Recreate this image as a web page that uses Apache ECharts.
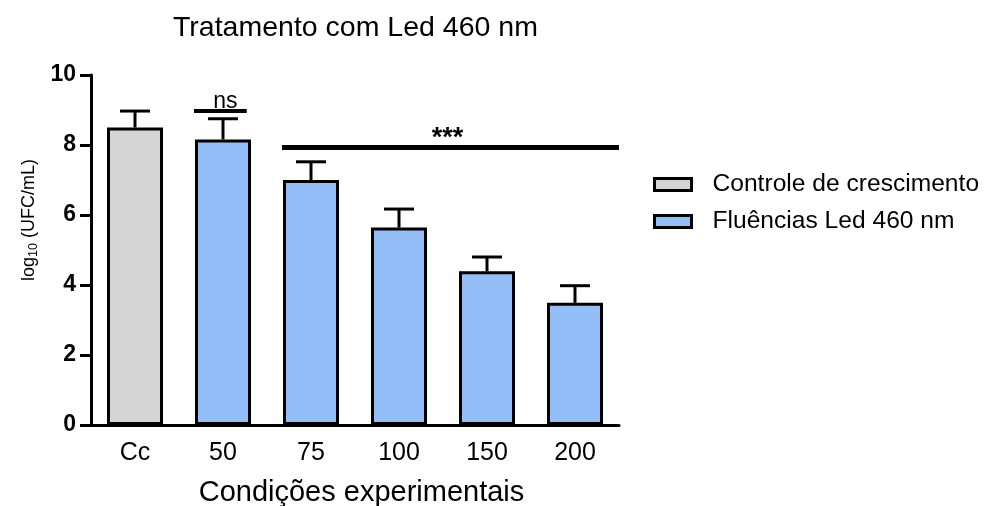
<!DOCTYPE html>
<html>
<head>
<meta charset="utf-8">
<script src="https://cdn.jsdelivr.net/npm/echarts@6/dist/echarts.min.js"></script>
<style>
  html, body { margin: 0; padding: 0; background: #fff; }
  #chart { width: 984px; height: 506px; }
</style>
</head>
<body>
<div id="chart"></div>
<script>
// Experimental conditions (fluence groups) and measured log10 CFU/mL
const categories = ['Cc', '50', '75', '100', '150', '200'];
const means = [8.5, 8.16, 7.0, 5.64, 4.39, 3.49];
const errors = [0.47, 0.59, 0.52, 0.53, 0.41, 0.49];
const controlCategories = ['Cc'];
const yTicks = [0, 2, 4, 6, 8, 10];

const seriesNames = ['Controle de crescimento', 'Fluências Led 460 nm'];

// Significance brackets: first and last category covered, height, label
const sigFrom = ['50', '75'];
const sigTo = ['50', '200'];
const sigLevel = [8.97, 7.93];
const sigText = ['ns', '***'];

const FONT = '"Liberation Sans", Arial, Helvetica, sans-serif';
const GRAY = '#d4d4d4';
const BLUE = '#93bef7';

const controlData = categories.map((c, i) => controlCategories.includes(c) ? means[i] : '-');
const treatedData = categories.map((c, i) => controlCategories.includes(c) ? '-' : means[i]);
const errorData = categories.map((c, i) => [i, means[i], means[i] + errors[i]]);
const sigData = sigText.map((t, i) => [categories.indexOf(sigFrom[i]), categories.indexOf(sigTo[i]), sigLevel[i]]);

const chart = echarts.init(document.getElementById('chart'), null, { renderer: 'canvas' });

const barStyle = (color) => ({ color: color, borderColor: '#000', borderWidth: 3 });

chart.setOption({
  animation: false,
  backgroundColor: '#fff',
  title: {
    text: 'Tratamento com Led 460 nm',
    left: 173,
    top: 14,
    padding: 0,
    textStyle: { fontFamily: FONT, fontSize: 28.5, fontWeight: 'normal', color: '#000' }
  },
  legend: {
    orient: 'vertical',
    left: 653,
    top: 172,
    padding: 0,
    itemGap: 12,
    itemWidth: 37,
    itemHeight: 12,
    icon: 'rect',
    selectedMode: false,
    itemStyle: { borderColor: '#000', borderWidth: 3 },
    textStyle: { fontFamily: FONT, fontSize: 24.6, color: '#000', padding: [0, 0, 0, 16] },
    data: seriesNames
  },
  grid: { left: 91, right: 365, top: 75, bottom: 81, containLabel: false, outerBoundsMode: 'none' },
  xAxis: {
    type: 'category',
    data: categories,
    name: 'Condições experimentais',
    nameLocation: 'middle',
    nameGap: 53,
    nameTextStyle: { fontFamily: FONT, fontSize: 29, color: '#000', padding: [0, 0, 0, 13] },
    axisLine: { lineStyle: { color: '#000', width: 3 } },
    axisTick: { alignWithLabel: true, length: 10, lineStyle: { color: '#000', width: 3 } },
    axisLabel: { fontFamily: FONT, fontSize: 25, color: '#000', margin: 16 },
    splitLine: { show: false }
  },
  yAxis: {
    type: 'value',
    min: yTicks[0],
    max: yTicks[yTicks.length - 1],
    interval: yTicks[1] - yTicks[0],
    axisLine: { show: true, lineStyle: { color: '#000', width: 3 } },
    axisTick: { show: true, length: 11, lineStyle: { color: '#000', width: 3 } },
    axisLabel: { fontFamily: FONT, fontSize: 23, fontWeight: 'bold', color: '#000', margin: 15 },
    splitLine: { show: false }
  },
  graphic: [{
    type: 'text',
    x: 29,
    y: 220,
    rotation: Math.PI / 2,
    style: {
      text: '{a|log}{b|10}{a| (UFC/mL)}',
      align: 'center',
      verticalAlign: 'middle',
      fill: '#000',
      rich: {
        a: { fontFamily: FONT, fontSize: 18, lineHeight: 22, fill: '#000' },
        b: { fontFamily: FONT, fontSize: 12.5, lineHeight: 15, verticalAlign: 'bottom', fill: '#000' }
      }
    }
  }],
  series: [
    {
      name: seriesNames[0],
      type: 'bar',
      data: controlData,
      barWidth: 56,
      barGap: '-100%',
      itemStyle: barStyle(GRAY),
      z: 2
    },
    {
      name: seriesNames[1],
      type: 'bar',
      data: treatedData,
      barWidth: 56,
      barGap: '-100%',
      itemStyle: barStyle(BLUE),
      z: 2
    },
    {
      // upper error whiskers with caps
      type: 'custom',
      data: errorData,
      z: 3,
      silent: true,
      renderItem: function (params, api) {
        const base = api.coord([api.value(0), api.value(1)]);
        const top = api.coord([api.value(0), api.value(2)]);
        const half = 15;
        const st = { stroke: '#000', lineWidth: 3 };
        return {
          type: 'group',
          children: [
            { type: 'line', shape: { x1: base[0], y1: base[1], x2: top[0], y2: top[1] }, style: st },
            { type: 'line', shape: { x1: top[0] - half, y1: top[1], x2: top[0] + half, y2: top[1] }, style: st }
          ]
        };
      }
    },
    {
      // significance bars and labels
      type: 'custom',
      data: sigData,
      z: 4,
      silent: true,
      renderItem: function (params, api) {
        const i = params.dataIndex;
        const left = api.coord([api.value(0), api.value(2)]);
        const right = api.coord([api.value(1), api.value(2)]);
        const band = api.size([1, 0])[0];
        const x1 = left[0] - 29;
        const x2 = i === 0 ? right[0] + band * 0.27 : right[0] + band / 2;
        const y = left[1];
        const isStars = sigText[i] === '***';
        return {
          type: 'group',
          children: [
            { type: 'line', shape: { x1: x1, y1: y, x2: x2, y2: y },
              style: { stroke: '#000', lineWidth: isStars ? 5 : 4 } },
            { type: 'text', x: isStars ? (x1 + x2) / 2 - 3 : (x1 + x2) / 2 + 5, y: isStars ? y - 9 : y + 2,
              style: {
                text: sigText[i], fill: '#000', fontFamily: FONT,
                fontSize: isStars ? 27 : 23, fontWeight: isStars ? 'bold' : 'normal',
                align: 'center', verticalAlign: isStars ? 'middle' : 'bottom'
              } }
          ]
        };
      }
    }
  ]
});
</script>
</body>
</html>
